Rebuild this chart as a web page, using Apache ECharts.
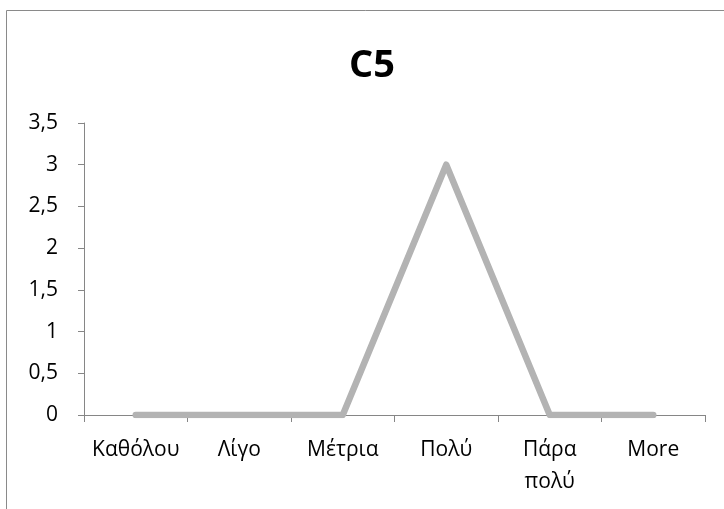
<!DOCTYPE html>
<html>
<head>
<meta charset="utf-8">
<script src="https://cdn.jsdelivr.net/npm/echarts@6/dist/echarts.min.js"></script>
<style>html,body{margin:0;padding:0;background:#fff}#c{width:724px;height:509px}</style>
</head>
<body>
<div id="c"></div>
<script>
const categories = ["Καθόλου", "Λίγο", "Μέτρια", "Πολύ", "Πάρα πολύ", "More"];
const values = [0, 0, 0, 3, 0, 0];
const yMin = 0, yMax = 3.5, yStep = 0.5;
const titleText = "C5";

const chart = echarts.init(document.getElementById('c'), null, {renderer: 'canvas'});
const font = "'Open Sans', 'DejaVu Sans', sans-serif";
chart.setOption({
  animation: false,
  backgroundColor: '#fff',
  title: {
    text: titleText, left: 367, top: 40, textAlign: 'center',
    textStyle: {fontFamily: font, fontWeight: 'bold', fontSize: 38, color: '#000', lineHeight: 42}
  },
  graphic: [{
    type: 'rect', shape: {x: 6.5, y: 10.5, width: 900, height: 700},
    style: {fill: null, stroke: '#8a8a8a', lineWidth: 1}, silent: true, z: -1
  }],
  grid: {left: 84, right: 19, top: 123, bottom: 94, containLabel: false},
  xAxis: {
    type: 'category', data: categories, boundaryGap: true,
    axisLine: {lineStyle: {color: '#868686', width: 1}},
    axisTick: {show: true, length: 7, interval: 0, lineStyle: {color: '#868686'}},
    axisLabel: {interval: 0, color: '#000', fontFamily: font, fontSize: 21, margin: 19, lineHeight: 32,
      formatter: v => v.replace(' ', '\n')}
  },
  yAxis: {
    type: 'value', min: yMin, max: yMax, interval: yStep,
    axisLine: {show: true, lineStyle: {color: '#868686', width: 1}},
    axisTick: {show: true, length: 6, lineStyle: {color: '#868686'}},
    splitLine: {show: false},
    axisLabel: {color: '#000', fontFamily: font, fontSize: 21, margin: 26,
      formatter: v => String(v).replace('.', ',')}
  },
  series: [{
    type: 'line', data: values, symbol: 'none',
    lineStyle: {color: '#b3b3b3', width: 6.5, cap: 'round', join: 'round'}
  }]
});
</script>
</body>
</html>
